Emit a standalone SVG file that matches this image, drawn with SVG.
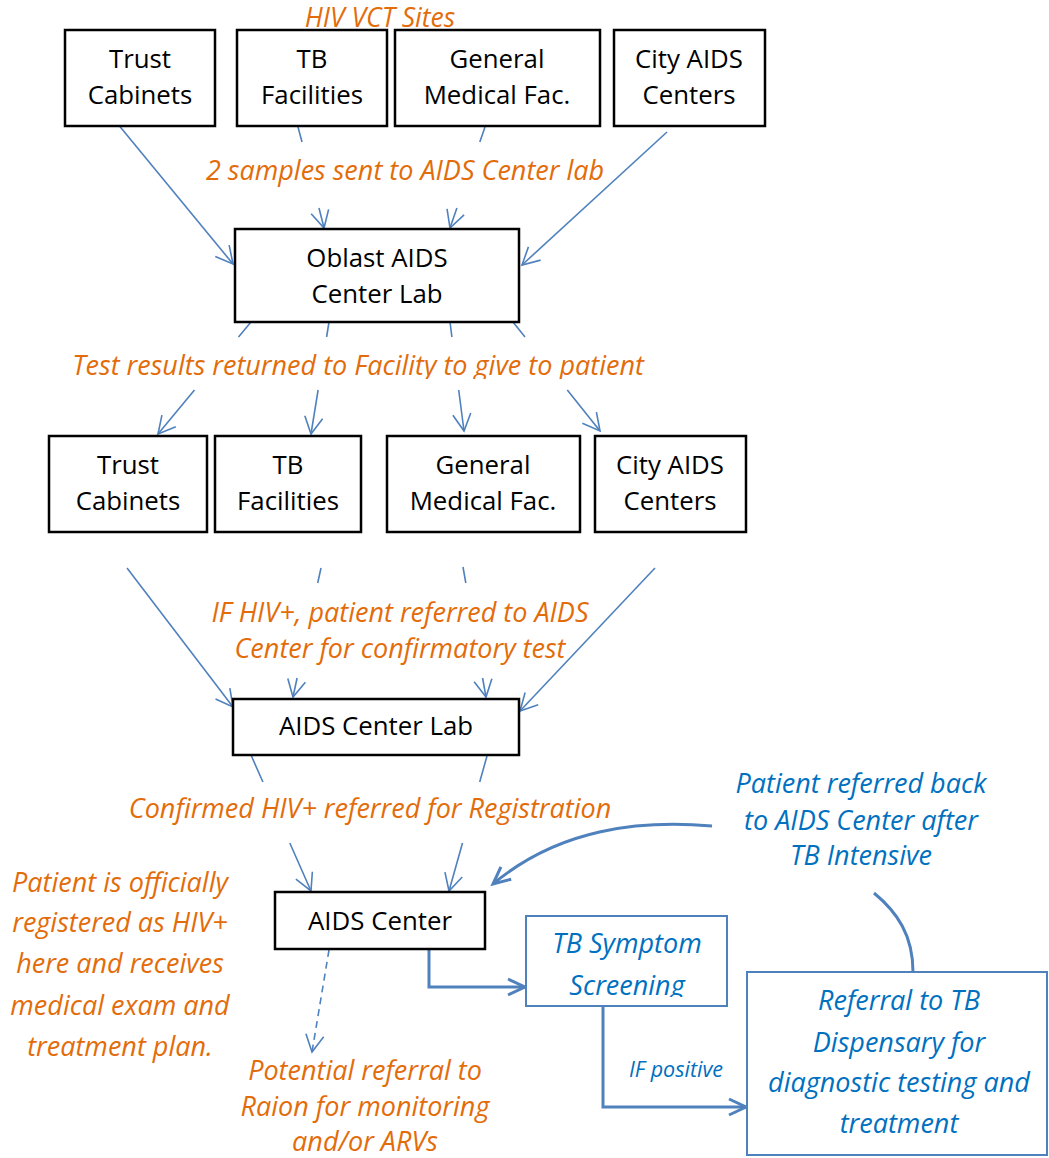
<svg xmlns="http://www.w3.org/2000/svg" width="1049" height="1158" viewBox="0 0 1049 1158">
  <style>
    .box { fill: #fff; stroke: #000; stroke-width: 2.5; }
    .bbox { fill: #fff; stroke: #4F81BD; stroke-width: 2; }
    .t { font-family: "Open Sans", "Liberation Sans", sans-serif; font-size: 25.8px; fill: #000; text-anchor: middle; }
    .o { font-family: "Open Sans", "Liberation Sans", sans-serif; font-style: italic; font-size: 27px; fill: #E36C0A; text-anchor: middle; }
    .b { font-family: "Open Sans", "Liberation Sans", sans-serif; font-style: italic; font-size: 27px; fill: #0070C0; text-anchor: middle; }
    .bs { font-size: 21.5px; }
    .ln { fill: none; stroke: #4F81BD; stroke-width: 1.6; }
    .thick { fill: none; stroke: #4F81BD; stroke-width: 3; }
  </style>
  <defs>
    <marker id="open" markerUnits="userSpaceOnUse" viewBox="-20 -12 24 24" refX="0" refY="0" markerWidth="24" markerHeight="24" orient="auto" overflow="visible">
      <path d="M-17,-9 L0,0 L-17,9" fill="none" stroke="#4F81BD" stroke-width="1.6"/>
    </marker>
    <marker id="openThick" markerUnits="userSpaceOnUse" viewBox="-20 -12 24 24" refX="0" refY="0" markerWidth="24" markerHeight="24" orient="auto" overflow="visible">
      <path d="M-17,-8 L0,0 L-17,8" fill="none" stroke="#4F81BD" stroke-width="3"/>
    </marker>
    <clipPath id="clipTest"><rect x="0" y="340" width="1049" height="39"/></clipPath>
    <clipPath id="clipScreen"><rect x="526" y="916" width="201" height="81"/></clipPath>
  </defs>

  <!-- connectors -->
  <g id="connectors">
    <path class="ln" marker-end="url(#open)" d="M117,123 L233,264"/>
    <path class="ln" marker-end="url(#open)" d="M298,127 L302,142 M319,208 L324,228"/>
    <path class="ln" marker-end="url(#open)" d="M485,127 L479.8,142 M456.9,208 L450,228"/>
    <path class="ln" marker-end="url(#open)" d="M667,132 L522,265"/>

    <path class="ln" marker-end="url(#open)" d="M251,322 L238.5,337 M194.5,390 L158,434"/>
    <path class="ln" marker-end="url(#open)" d="M329,322 L326.6,337 M318.1,390 L311,434"/>
    <path class="ln" marker-end="url(#open)" d="M450,322 L451.9,337 M458.7,390 L464,431"/>
    <path class="ln" marker-end="url(#open)" d="M513,322 L525,337 M567.3,390 L600,431"/>

    <path class="ln" marker-end="url(#open)" d="M127,568 L233,707"/>
    <path class="ln" marker-end="url(#open)" d="M321,568 L317.7,583 M297.1,678 L293,697"/>
    <path class="ln" marker-end="url(#open)" d="M463,567 L465.8,583 M482.6,678 L486,697"/>
    <path class="ln" marker-end="url(#open)" d="M655,568 L520,711"/>

    <path class="ln" marker-end="url(#open)" d="M251,755 L262.9,782 M289.8,843 L311,891"/>
    <path class="ln" marker-end="url(#open)" d="M487,756 L479.7,782 M462.5,843 L449,891"/>

    <path class="ln" stroke-dasharray="7,5" marker-end="url(#open)" d="M329,950 L312,1052"/>
    <path class="thick" marker-end="url(#openThick)" d="M429,949 L429,987 L525,987"/>
    <path class="thick" marker-end="url(#openThick)" d="M603,1006 L603,1107 L746,1107"/>
    <path class="thick" marker-end="url(#openThick)" d="M913,972 C913,935 897,912 874,893 M712,826 C640,820 560,828 493,884"/>
  </g>

  <!-- top row: HIV VCT sites -->
  <g id="vct-label"><text class="o" x="380" y="27" style="font-size:26.5px">HIV VCT Sites</text></g>
  <g id="trust-top"><rect class="box" x="65" y="30" width="150" height="96"/><text class="t" x="140" y="68">Trust</text><text class="t" x="140" y="104">Cabinets</text></g>
  <g id="tb-top"><rect class="box" x="237" y="30" width="150" height="96"/><text class="t" x="312" y="68">TB</text><text class="t" x="312" y="104">Facilities</text></g>
  <g id="gen-top"><rect class="box" x="395" y="30" width="205" height="96"/><text class="t" x="497" y="68">General</text><text class="t" x="497" y="104">Medical Fac.</text></g>
  <g id="city-top"><rect class="box" x="614" y="30" width="151" height="96"/><text class="t" x="689" y="68">City AIDS</text><text class="t" x="689" y="104">Centers</text></g>

  <g id="samples-label"><text class="o" x="405" y="180">2 samples sent to AIDS Center lab</text></g>

  <g id="oblast-lab"><rect class="box" x="235" y="229" width="284" height="93"/><text class="t" x="377" y="267">Oblast AIDS</text><text class="t" x="377" y="303">Center Lab</text></g>

  <g id="results-label"><text class="o" x="358" y="375" clip-path="url(#clipTest)">Test results returned to Facility to give to patient</text></g>

  <!-- second row -->
  <g id="trust-mid"><rect class="box" x="49" y="436" width="158" height="96"/><text class="t" x="128" y="474">Trust</text><text class="t" x="128" y="510">Cabinets</text></g>
  <g id="tb-mid"><rect class="box" x="215" y="436" width="146" height="96"/><text class="t" x="288" y="474">TB</text><text class="t" x="288" y="510">Facilities</text></g>
  <g id="gen-mid"><rect class="box" x="387" y="436" width="193" height="96"/><text class="t" x="483" y="474">General</text><text class="t" x="483" y="510">Medical Fac.</text></g>
  <g id="city-mid"><rect class="box" x="595" y="436" width="151" height="96"/><text class="t" x="670" y="474">City AIDS</text><text class="t" x="670" y="510">Centers</text></g>

  <g id="positive-label"><text class="o" x="400" y="622">IF HIV+, patient referred to AIDS</text><text class="o" x="400" y="658">Center for confirmatory test</text></g>

  <g id="aids-lab"><rect class="box" x="233" y="699" width="286" height="56"/><text class="t" x="376" y="735">AIDS Center Lab</text></g>

  <g id="confirmed-label"><text class="o" x="370" y="818">Confirmed HIV+ referred for Registration</text></g>

  <g id="registered-note">
    <text class="o" x="120" y="892">Patient is officially</text>
    <text class="o" x="120" y="932">registered as HIV+</text>
    <text class="o" x="120" y="973">here and receives</text>
    <text class="o" x="120" y="1015">medical exam and</text>
    <text class="o" x="120" y="1056">treatment plan.</text>
  </g>

  <g id="aids-center"><rect class="box" x="275" y="892" width="210" height="57"/><text class="t" x="380" y="930">AIDS Center</text></g>

  <g id="raion-note">
    <text class="o" x="365" y="1080">Potential referral to</text>
    <text class="o" x="365" y="1116">Raion for monitoring</text>
    <text class="o" x="365" y="1151">and/or ARVs</text>
  </g>

  <g id="referred-back-note">
    <text class="b" x="861" y="793">Patient referred back</text>
    <text class="b" x="861" y="830">to AIDS Center after</text>
    <text class="b" x="861" y="865">TB Intensive</text>
  </g>

  <g id="tb-screening"><rect class="bbox" x="526" y="916" width="201" height="90"/><text class="b" x="627" y="953">TB Symptom</text><text class="b" x="627" y="995" clip-path="url(#clipScreen)">Screening</text></g>

  <g id="if-positive-label"><text class="b bs" x="676" y="1077">IF positive</text></g>

  <g id="tb-dispensary"><rect class="bbox" x="747" y="972" width="300" height="183"/>
    <text class="b" x="899" y="1010">Referral to TB</text>
    <text class="b" x="899" y="1052">Dispensary for</text>
    <text class="b" x="899" y="1092">diagnostic testing and</text>
    <text class="b" x="899" y="1133">treatment</text>
  </g>
</svg>
